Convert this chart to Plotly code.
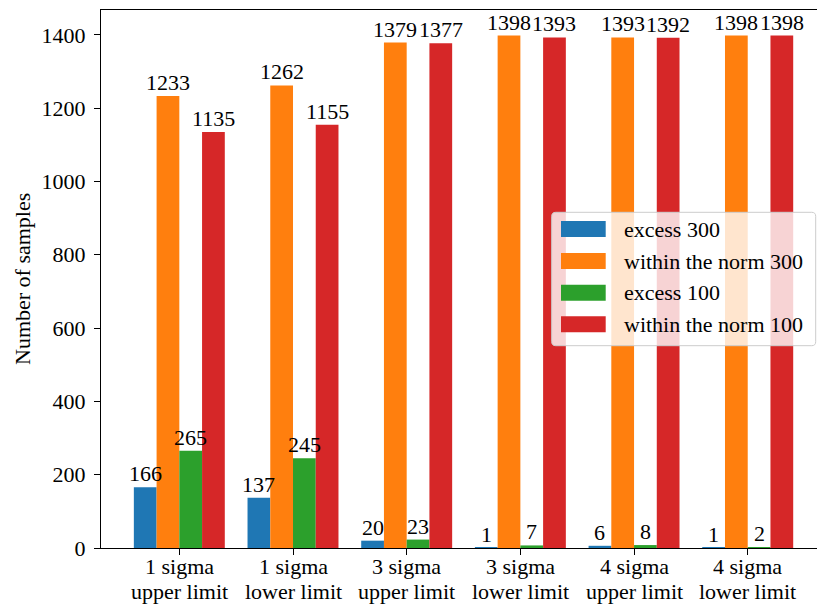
import plotly.graph_objects as go

categories = ["1 sigma<br>upper limit", "1 sigma<br>lower limit", "3 sigma<br>upper limit",
              "3 sigma<br>lower limit", "4 sigma<br>upper limit", "4 sigma<br>lower limit"]
series_names = ["excess 300", "within the norm 300", "excess 100", "within the norm 100"]
excess_300 = [166, 137, 20, 1, 6, 1]
norm_300 = [1233, 1262, 1379, 1398, 1393, 1398]
excess_100 = [265, 245, 23, 7, 8, 2]
norm_100 = [1135, 1155, 1377, 1393, 1392, 1398]
y_ticks = [0, 200, 400, 600, 800, 1000, 1200, 1400]

series_values = [excess_300, norm_300, excess_100, norm_100]
colors = ["#1f77b4", "#ff7f0e", "#2ca02c", "#d62728"]
FONT = "Liberation Serif, Times New Roman, serif"
FS = 22

W, H = 817, 608
L, R, T, B = 101, 0, 10, 60
PW, PH = W - L - R, H - T - B

bar_w = 0.2
offsets = [-0.4, -0.2, 0.0, 0.2]
xpos = list(range(len(categories)))

fig = go.Figure()
annotations = []
for name, vals, col, off in zip(series_names, series_values, colors, offsets):
    fig.add_trace(go.Bar(x=xpos, y=vals, width=bar_w, offset=off, name=name,
                         marker=dict(color=col, line=dict(width=0)), showlegend=False))
    for xi, v in zip(xpos, vals):
        annotations.append(dict(x=xi + off + bar_w / 2, y=v, xref="x", yref="y",
                                text=str(v), showarrow=False, xanchor="center",
                                yanchor="bottom", yshift=-1,
                                font=dict(family=FONT, size=FS, color="black")))

# two-line category labels
for xi, cat in zip(xpos, categories):
    for k, line in enumerate(cat.split("<br>")):
        annotations.append(dict(x=xi, y=0, xref="x", yref="paper", text=line,
                                showarrow=False, xanchor="center", yanchor="middle",
                                yshift=-(18.6 + 24.4 * k),
                                font=dict(family=FONT, size=FS, color="black")))

ymax = max(max(v) for v in series_values) * 1.05
x0 = -0.689
x1 = x0 + PW / 113.68

def px_x(p):
    return (p - L) / PW

def px_y(p):
    return (T + PH - p) / PH

# y-axis title
annotations.append(dict(x=px_x(22), y=0.5, xref="paper", yref="paper",
                        text="Number of samples", textangle=-90, showarrow=False,
                        xanchor="center", yanchor="middle",
                        font=dict(family=FONT, size=FS, color="black")))

# legend (matplotlib-like)
lx0, lx1, ly0, ly1 = 551.7, 815.7, 212.3, 345.7
r = 4
def P(x, y):
    return f"{px_x(x):.5f},{px_y(y):.5f}"
path = (f"M {P(lx0 + r, ly0)} L {P(lx1 - r, ly0)} Q {P(lx1, ly0)} {P(lx1, ly0 + r)} "
        f"L {P(lx1, ly1 - r)} Q {P(lx1, ly1)} {P(lx1 - r, ly1)} "
        f"L {P(lx0 + r, ly1)} Q {P(lx0, ly1)} {P(lx0, ly1 - r)} "
        f"L {P(lx0, ly0 + r)} Q {P(lx0, ly0)} {P(lx0 + r, ly0)} Z")
shapes = [dict(type="path", path=path, xref="paper", yref="paper",
               fillcolor="rgba(255,255,255,0.8)", line=dict(color="#cccccc", width=1),
               layer="above")]
row_y = [229, 261, 292.7, 324.3]
for name, col, ry in zip(series_names, colors, row_y):
    shapes.append(dict(type="rect", xref="paper", yref="paper",
                       x0=px_x(561), x1=px_x(605.7), y0=px_y(ry + 8), y1=px_y(ry - 8),
                       fillcolor=col, line=dict(width=0), layer="above"))
    annotations.append(dict(x=px_x(622), y=px_y(ry), xref="paper", yref="paper",
                            text=name, showarrow=False, xanchor="left", yanchor="middle",
                            font=dict(family=FONT, size=FS, color="black")))

fig.update_layout(
    width=W, height=H,
    margin=dict(l=L, r=R, t=T, b=B, autoexpand=False),
    paper_bgcolor="white", plot_bgcolor="white",
    barmode="overlay",
    font=dict(family=FONT, size=FS, color="black"),
    xaxis=dict(range=[x0, x1], tickvals=xpos, showticklabels=False,
               showgrid=False, zeroline=False, showline=True, linecolor="black",
               linewidth=1.2, mirror=True, ticks="outside", ticklen=6, tickwidth=1.2,
               tickcolor="black"),
    yaxis=dict(range=[0, ymax], tickvals=y_ticks, showgrid=False, zeroline=False,
               showline=True, linecolor="black", linewidth=1.2, mirror=False,
               ticks="outside", ticklen=6, tickwidth=1.2, tickcolor="black",
               ticklabelstandoff=4,
               tickfont=dict(family=FONT, size=FS, color="black")),
    annotations=annotations,
    shapes=shapes,
    showlegend=False,
)

fig.write_html("out.html", config={"displayModeBar": False},
               post_script="document.body.style.margin='0';document.body.style.overflow='hidden';")
